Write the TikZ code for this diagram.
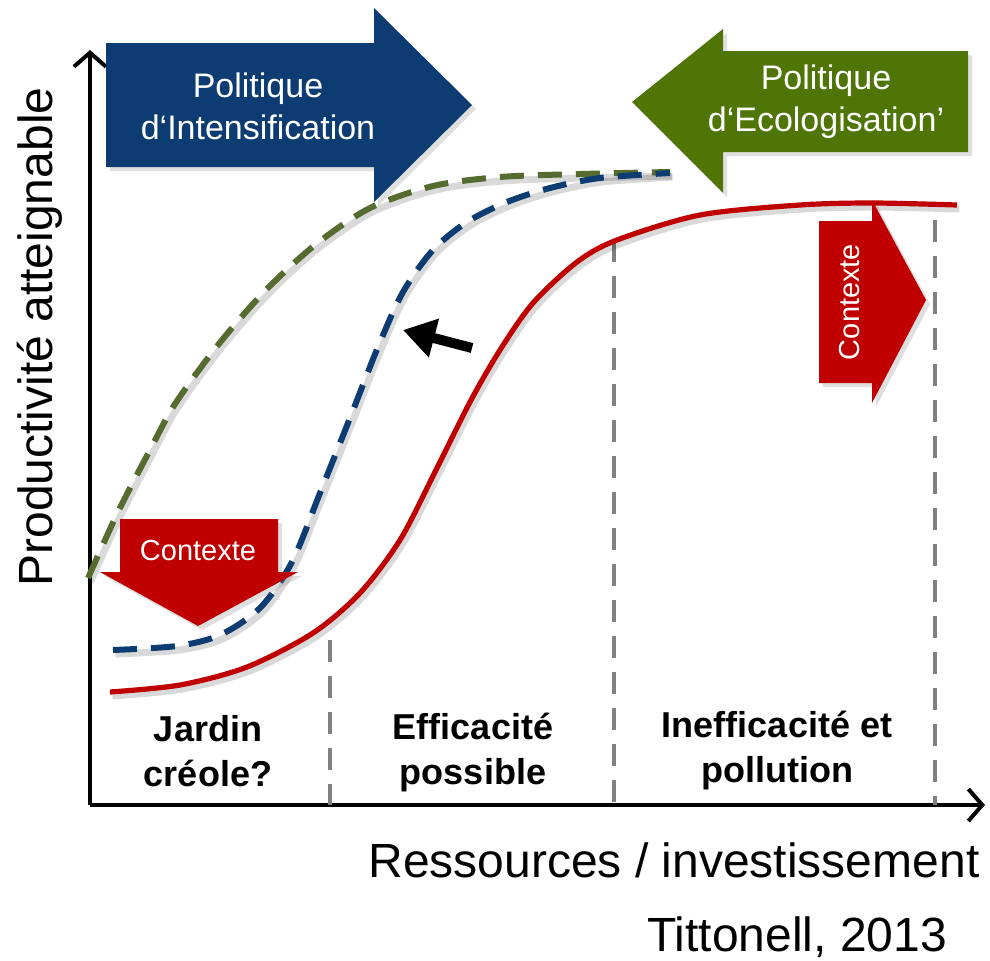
\documentclass[tikz,border=0pt]{standalone}
\usepackage{fontspec}
\setmainfont{Liberation Sans}
\usetikzlibrary{arrows.meta,shadows}
\definecolor{polblue}{HTML}{0D3C73}
\definecolor{polgreen}{HTML}{4F7507}
\definecolor{dashgreen}{HTML}{556B2F}
\definecolor{ctxred}{HTML}{C00000}
\definecolor{zonegray}{HTML}{808080}

\begin{document}
\begin{tikzpicture}[x=0.5pt,y=-0.5pt,
    axis/.style={line width=2pt,-{Straight Barb[length=7pt,width=16pt]}},
    curveshadow/.style={draw=black,opacity=.15,solid,line width=3.5pt,
      transform canvas={xshift=1.2pt,yshift=-2pt}},
    dashline/.style={line width=3pt,dash pattern=on 12pt off 7pt,
      preaction={curveshadow}},
    zoneline/.style={draw=zonegray,line width=2pt,dash pattern=on 11pt off 7pt},
    blockarrow/.style={drop shadow={opacity=.25,shadow xshift=2pt,shadow yshift=-2pt}},
    axislabel/.style={font=\fontsize{24}{28}\selectfont},
    pollabel/.style={text=white,align=center,font=\fontsize{17}{21}\selectfont},
    ctxlabel/.style={text=white,font=\fontsize{14.5}{17}\selectfont},
    zonelabel/.style={align=center,font=\fontsize{18}{22.5}\selectfont\bfseries}]
  \useasboundingbox (0,0) rectangle (990,960);

  % axes
  \coordinate (o) at (90,805);
  \coordinate (ytip) at (90,50);
  \coordinate (xtip) at (985,805);
  \draw[axis] (o) -- (ytip);
  \draw[axis] (o) -- (xtip);

  % zone limits
  \draw[zoneline] (330,640) -- (330,805);
  \draw[zoneline] (614,240) -- (614,805);
  \draw[zoneline] (935,220) -- (935,805);

  % policy arrows
  \fill[polblue,blockarrow] (106,43) -- (374,43) -- (374,8) -- (472,105)
    -- (374,202) -- (374,167) -- (106,167) -- cycle;
  \fill[polgreen,blockarrow] (968,51) -- (723,51) -- (723,29) -- (632,102)
    -- (723,193) -- (723,152) -- (968,152) -- cycle;
  \node[pollabel] (intens) at (258,106) {Politique\\d‘Intensification};
  \node[pollabel] (ecolo) at (826,102) {Politique\\d‘Ecologisation’};

  % curves
  \draw[ctxred,line width=2.6pt,preaction={curveshadow}] plot[smooth] coordinates {
    (110,692) (180,685) (247,667) (313,633) (360,593) (400,540) (435,472)
    (470,402) (500,350) (533,303) (577,262) (617,240) (700,215) (800,205)
    (873,203) (957,205)};
  \draw[dashgreen,dashline] plot[smooth] coordinates {
    (88,578) (118,512) (150,450) (175,404) (218,345) (265,291) (315,245)
    (370,208) (433,186) (500,177) (580,174) (670,172)};
  \draw[polblue,dashline] plot[smooth] coordinates {
    (113,650) (177,646) (220,635) (260,608) (292,562) (320,493) (350,418)
    (378,347) (403,292) (433,250) (467,222) (507,202) (550,188) (600,178) (670,173)};

  % context arrows
  \fill[ctxred,blockarrow] (120,519) -- (278,519) -- (278,572) -- (298,572)
    -- (198,626) -- (100,572) -- (120,572) -- cycle;
  \node[ctxlabel] (ctxdown) at (198,551) {Contexte};
  \fill[ctxred,blockarrow] (819,221) -- (872,221) -- (872,200) -- (926,300)
    -- (872,403) -- (872,383) -- (819,383) -- cycle;
  \node[ctxlabel,rotate=90] (ctxright) at (850,302) {Contexte};

  % shift
  \coordinate (shiftfrom) at (472,348);
  \coordinate (shiftto) at (403,330);
  \draw[line width=5pt,-{Triangle[length=16pt,width=19pt]}] (shiftfrom) -- (shiftto);

  % labels
  \node[zonelabel] (zonea) at (208,751) {Jardin\\créole?};
  \node[zonelabel] (zoneb) at (473,753) {Efficacité\\possible};
  \node[zonelabel] (zonec) at (777,751) {Inefficacité et\\pollution};
  \node[axislabel,rotate=90] (ylabel) at (40,337) {Productivité atteignable};
  \node[axislabel] (xlabel) at (674,860) {Ressources / investissement};
  \node[axislabel] (source) at (797,937) {Tittonell, 2013};
\end{tikzpicture}
\end{document}
